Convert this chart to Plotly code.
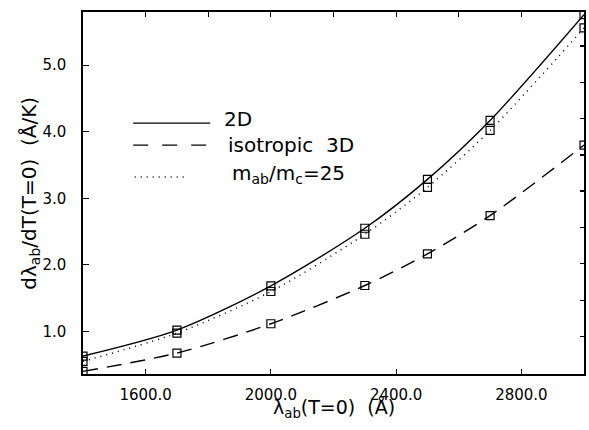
import plotly.graph_objects as go

# ---- data ----
lam = [1400, 1700, 2000, 2300, 2500, 2700, 3000]
y_2d = [0.63, 1.02, 1.685, 2.55, 3.285, 4.17, 5.76]
y_m25 = [0.55, 0.975, 1.60, 2.46, 3.165, 4.02, 5.56]
y_3d = [0.40, 0.675, 1.115, 1.69, 2.165, 2.74, 3.80]

x_ticks = [1600, 2000, 2400, 2800]
x_tick_text = ["1600.0", "2000.0", "2400.0", "2800.0"]
x_top_ticks = [1600, 1800, 2000, 2200, 2400, 2600, 2800]
y_ticks = [1, 2, 3, 4, 5]
y_tick_text = ["1.0", "2.0", "3.0", "4.0", "5.0"]
y_right_ticks = [0.925, 1.47, 2.02, 2.56, 3.11, 3.65, 4.20, 4.74, 5.29]

legend_labels = ["2D", "isotropic  3D", "m<sub>ab</sub>/m<sub>c</sub>=25"]

# ---- geometry ----
W, H = 589, 430
L, R, T, B = 83.3, 584.3, 11.7, 374.3
PW, PH = R - L, B - T


def px(xp):
    return (xp - L) / PW


def py(yp):
    return (B - yp) / PH


FONT = "DejaVu Sans"
line_col = "black"

fig = go.Figure()

series = [
    (y_2d, "solid", 1.4),
    (y_3d, "15px,9px", 1.4),
    (y_m25, "1px,5px", 1.5),
]
for ys, dash, w in series:
    fig.add_trace(go.Scatter(
        x=lam, y=ys, mode="lines+markers",
        line=dict(color=line_col, width=w, dash=dash, shape="spline", smoothing=0.8),
        marker=dict(symbol="square-open", size=8, color=line_col,
                    line=dict(width=1.2, color=line_col)),
        showlegend=False, hoverinfo="skip",
    ))

# dummy trace for the secondary (top / right) tick axes
fig.add_trace(go.Scatter(x=[None], y=[None], xaxis="x2", yaxis="y2",
                         showlegend=False, hoverinfo="skip"))

# ---- legend (keys drawn as decorations) ----
leg = [
    (133.5, 210.5, 123, "solid", 118.5, 222.5),
    (133.5, 214.0, 145, "15px,14px", 144.5, 226.0),
    (135.0, 188.0, 177, "1px,5px", 173.5, 230.0),
]
for (x0, x1, yl, dash, yt, xt), lab in zip(leg, legend_labels):
    fig.add_shape(type="line", xref="paper", yref="paper",
                  x0=px(x0), x1=px(x1), y0=py(yl), y1=py(yl),
                  line=dict(color=line_col, width=1.4, dash=dash))
    fig.add_annotation(xref="paper", yref="paper", x=px(xt), y=py(yt),
                       xanchor="left", yanchor="middle", text=lab,
                       showarrow=False,
                       font=dict(family=FONT, size=20, color="black"))

# ---- axis titles ----
fig.add_annotation(xref="paper", yref="paper", x=0.5, y=py(409),
                   xanchor="center", yanchor="middle",
                   text="λ<sub>ab</sub>(T=0)  (Å)", showarrow=False,
                   font=dict(family=FONT, size=19, color="black"))
fig.add_annotation(xref="paper", yref="paper", x=px(30), y=0.5,
                   xanchor="center", yanchor="middle", textangle=-90,
                   text="dλ<sub>ab</sub>/dT(T=0)  (Å/K)", showarrow=False,
                   font=dict(family=FONT, size=20, color="black"))

axis_common = dict(showgrid=False, zeroline=False, showline=True,
                   linecolor="black", linewidth=1.6, ticks="inside",
                   tickcolor="black", tickwidth=1.2)

fig.update_layout(
    width=W, height=H,
    margin=dict(l=L, r=W - R, t=T, b=H - B, autoexpand=False),
    paper_bgcolor="white", plot_bgcolor="white",
    font=dict(family=FONT, size=15, color="black"),
    xaxis=dict(range=[1400, 3000], tickvals=x_ticks, ticktext=x_tick_text,
               ticklen=5, mirror=True, ticklabelstandoff=6,
               tickfont=dict(family=FONT, size=15), **axis_common),
    yaxis=dict(range=[0.36, 5.8], tickvals=y_ticks, ticktext=y_tick_text,
               ticklen=6, mirror=True, ticklabelstandoff=12,
               tickfont=dict(family=FONT, size=15), **axis_common),
    xaxis2=dict(range=[1400, 3000], overlaying="x", side="top", anchor="y",
                tickvals=x_top_ticks, showticklabels=False, ticklen=5,
                **axis_common),
    yaxis2=dict(range=[0.36, 5.8], overlaying="y", side="right", anchor="x",
                tickvals=y_right_ticks, showticklabels=False, ticklen=4,
                **axis_common),
)

fig.write_html("out.html",
               config={"displayModeBar": False, "staticPlot": True},
               post_script="document.body.style.margin='0';"
                           "document.body.style.overflow='hidden';")
